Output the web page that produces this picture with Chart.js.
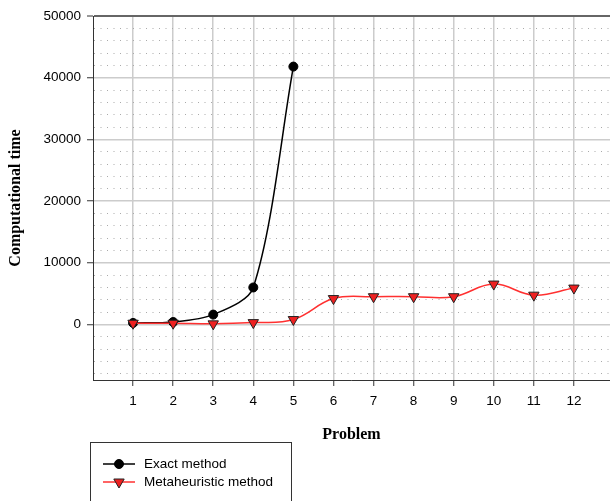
<!DOCTYPE html>
<html>
<head>
<meta charset="utf-8">
<script src="https://cdn.jsdelivr.net/npm/chart.js@4.4.0/dist/chart.umd.min.js"></script>
<style>
  html, body { margin: 0; padding: 0; background: #fff; overflow: hidden; }
  #wrap { width: 610px; height: 501px; overflow: hidden; }
</style>
</head>
<body>
<!-- canvas is a little wider than the window so the plot runs off the right edge like the original -->
<div id="wrap"><canvas id="chart" width="617" height="501"></canvas></div>
<script>
// values
const problems = [1, 2, 3, 4, 5, 6, 7, 8, 9, 10, 11, 12];
const exactTimes = [250, 400, 1600, 6000, 41800];
const metaTimes = [200, 200, 100, 300, 800, 4200, 4500, 4500, 4500, 6550, 4750, 5900];
const yLabelValues = [0, 10000, 20000, 30000, 40000, 50000];
const seriesNames = ['Exact method', 'Metaheuristic method'];
const yMin = -9000, yMax = 50000, yMinorStep = 2000;

const tickFont = { family: '"Liberation Sans", Arial, sans-serif', size: 13.5 };
const titleFont = { family: '"Liberation Serif", "Times New Roman", serif', size: 16, weight: 'bold' };

function isMajor(v){ return v % 10000 === 0; }

// legend in a framed box under the plot
const boxLegend = {
    id: 'boxLegend',
    afterDraw(chart){
        const ctx = chart.ctx;
        ctx.save();
        ctx.strokeStyle = '#333';
        ctx.lineWidth = 1;
        ctx.strokeRect(90.5, 442.5, 201, 80);
        chart.data.datasets.forEach((ds, i) => {
            const y = 464 + i * 18;
            ctx.strokeStyle = ds.borderColor;
            ctx.lineWidth = ds.borderWidth;
            ctx.beginPath(); ctx.moveTo(103, y); ctx.lineTo(135, y); ctx.stroke();
            ctx.fillStyle = ds.pointBackgroundColor;
            ctx.strokeStyle = ds.pointBorderColor;
            ctx.lineWidth = ds.pointBorderWidth;
            ctx.beginPath();
            if (ds.pointStyle === 'triangle'){
                const r = ds.pointRadius;
                ctx.moveTo(119, y + r);
                ctx.lineTo(119 - r * 0.866, y - r / 2);
                ctx.lineTo(119 + r * 0.866, y - r / 2);
                ctx.closePath();
            } else {
                ctx.arc(119, y, ds.pointRadius, 0, Math.PI * 2);
            }
            ctx.fill();
            if (ds.pointBorderWidth > 0) ctx.stroke();
            ctx.fillStyle = '#000';
            ctx.font = tickFont.size + 'px ' + tickFont.family;
            ctx.textBaseline = 'middle';
            ctx.fillText(ds.label, 144, y);
        });
        ctx.restore();
    }
};

new Chart(document.getElementById('chart'), {
    type: 'line',
    data: {
        datasets: [
            {
                label: seriesNames[0],
                data: exactTimes.map((v, i) => ({ x: problems[i], y: v })),
                borderColor: '#000', borderWidth: 1.5,
                pointRadius: 4.5, pointBackgroundColor: '#000', pointBorderColor: '#000', pointBorderWidth: 1,
                tension: 0.3, fill: false, order: 1
            },
            {
                label: seriesNames[1],
                data: metaTimes.map((v, i) => ({ x: problems[i], y: v })),
                borderColor: '#ff3030', borderWidth: 1.5,
                pointStyle: 'triangle', pointRotation: 180,
                pointRadius: 6, pointBackgroundColor: '#ee2020', pointBorderColor: '#222', pointBorderWidth: 1,
                tension: 0.4, fill: false, order: 0
            }
        ]
    },
    options: {
        responsive: false,
        animation: false,
        devicePixelRatio: 1,
        layout: { padding: { top: 16, bottom: 51, left: 0, right: 0 } },
        plugins: { legend: { display: false }, tooltip: { enabled: false } },
        scales: {
            x: {
                type: 'linear', min: 0, max: 12.9,
                afterFit(s){ s.height = 70; },
                afterBuildTicks(s){ s.ticks = problems.map(v => ({ value: v })); },
                ticks: { stepSize: 1, autoSkip: false, maxRotation: 0, padding: 7, color: '#000', font: tickFont,
                         callback: v => String(v) },
                grid: { color: '#cccccc', lineWidth: 1.5, tickLength: 6, tickColor: '#333', tickWidth: 1 },
                border: { color: '#333', width: 1 },
                title: { display: true, text: 'Problem', color: '#000', font: titleFont, padding: 6 }
            },
            y: {
                type: 'linear', min: yMin, max: yMax,
                afterFit(s){ s.width = 93; },
                afterBuildTicks(s){
                    const list = [];
                    for (let v = Math.ceil(yMin / yMinorStep) * yMinorStep; v <= yMax; v += yMinorStep) list.push({ value: v });
                    s.ticks = list;
                },
                ticks: { autoSkip: false, padding: 6, color: '#000', font: tickFont,
                         callback: v => yLabelValues.includes(v) ? String(v) : '' },
                grid: {
                    color: c => !c.tick ? '#ccc' : c.tick.value === yMax ? '#666' : isMajor(c.tick.value) ? '#cccccc' : '#aaaaaa',
                    lineWidth: c => !c.tick ? 1 : c.tick.value === yMax ? 2 : isMajor(c.tick.value) ? 1.5 : 1,
                    tickLength: 6,
                    tickColor: c => c.tick && isMajor(c.tick.value) ? '#333' : 'rgba(0,0,0,0)',
                    tickWidth: 1
                },
                border: { color: '#333', width: 1,
                          dash: c => (c.tick && !isMajor(c.tick.value)) ? [1, 5.5] : [] },
                title: { display: true, text: 'Computational time', color: '#000', font: titleFont, padding: 6 }
            }
        }
    },
    plugins: [boxLegend]
});
</script>
</body>
</html>
